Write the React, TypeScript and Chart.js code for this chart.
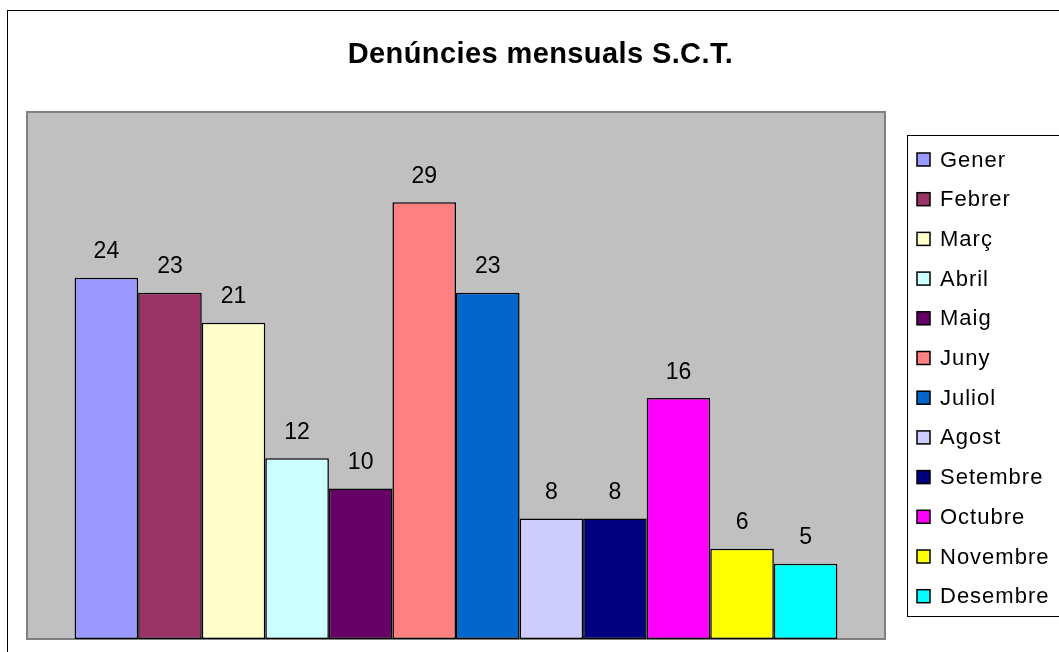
import React, { useEffect, useRef } from "react";
import { Chart, registerables } from "chart.js";

Chart.register(...registerables);

const TITLE = "Denúncies mensuals S.C.T.";
const months = ["Gener", "Febrer", "Març", "Abril", "Maig", "Juny", "Juliol", "Agost", "Setembre", "Octubre", "Novembre", "Desembre"];
const values = [24, 23, 21, 12, 10, 29, 23, 8, 8, 16, 6, 5];
const colors = ["#9999FF", "#993366", "#FFFFCC", "#CCFFFF", "#660066", "#FF8080", "#0066CC", "#CCCCFF", "#000080", "#FF00FF", "#FFFF00", "#00FFFF"];
const Y_MAX = 35;

const FONT = "'Liberation Sans', Arial, sans-serif";

const framePlugin = {
  id: "frame",
  beforeDraw(chart: any) {
    const ctx = chart.ctx;
    const { left, top, right, bottom } = chart.chartArea;
    ctx.save();
    ctx.fillStyle = "#ffffff";
    ctx.fillRect(0, 0, chart.width, chart.height);
    ctx.strokeStyle = "#000000";
    ctx.lineWidth = 1;
    ctx.strokeRect(7.5, 10.5, chart.width + 20, chart.height + 20);
    ctx.fillStyle = "#C0C0C0";
    ctx.fillRect(left, top, right - left, bottom - top);
    ctx.strokeStyle = "#808080";
    ctx.lineWidth = 2;
    ctx.strokeRect(left, top, right - left, bottom - top);
    // title
    ctx.fillStyle = "#000000";
    ctx.font = `bold 29px ${FONT}`;
    (ctx as any).letterSpacing = "0.4px";
    ctx.textAlign = "center";
    ctx.textBaseline = "alphabetic";
    ctx.fillText(TITLE, 540.5, 63);
    ctx.restore();
  },
  afterDatasetsDraw(chart: any) {
    const ctx = chart.ctx;
    ctx.save();
    ctx.fillStyle = "#000000";
    ctx.font = `23px ${FONT}`;
    ctx.textAlign = "center";
    ctx.textBaseline = "alphabetic";
    chart.data.datasets.forEach((ds: any, i: number) => {
      const meta = chart.getDatasetMeta(i);
      const el = meta.data[0];
      if (!el) return;
      ctx.fillText(String(ds.data[0]), el.x, el.y - 19.5);
    });
    // legend
    const lx = 907.5, ly = 135.5, lw = 200, lh = 481;
    ctx.strokeStyle = "#000000";
    ctx.lineWidth = 1;
    ctx.strokeRect(lx, ly, lw, lh);
    ctx.font = `22px ${FONT}`;
    (ctx as any).letterSpacing = "1px";
    ctx.textAlign = "left";
    chart.data.datasets.forEach((ds: any, i: number) => {
      const cy = 159.5 + i * 39.7;
      ctx.fillStyle = ds.backgroundColor;
      ctx.fillRect(917, cy - 6.5, 13, 13);
      ctx.strokeStyle = "#000000";
      ctx.lineWidth = 1.5;
      ctx.strokeRect(917, cy - 6.5, 13, 13);
      ctx.fillStyle = "#000000";
      ctx.fillText(ds.label, 940, cy + 7);
    });
    ctx.restore();
  },
};

export default function App() {
  const ref = useRef<HTMLCanvasElement>(null);
  useEffect(() => {
    document.body.style.margin = "0";
    const canvas = ref.current!;
    const chart = new Chart(canvas, {
      type: "bar",
      data: {
        labels: [""],
        datasets: months.map((m, i) => ({
          label: m,
          data: [values[i]],
          backgroundColor: colors[i],
          borderColor: "#000000",
          borderWidth: 1.5,
          borderSkipped: false,
          categoryPercentage: 0.889,
          barPercentage: 1.0,
        })),
      },
      options: {
        responsive: false,
        animation: false,
        devicePixelRatio: 1,
        layout: { padding: { left: 27, top: 112, right: 174, bottom: 13 } },
        plugins: {
          legend: { display: false },
          title: { display: false },
          tooltip: { enabled: false },
        },
        scales: {
          x: { display: false },
          y: { display: false, min: 0, max: Y_MAX },
        },
      },
      plugins: [framePlugin],
    });
    return () => chart.destroy();
  }, []);
  return <canvas ref={ref} width={1059} height={652} style={{ display: "block" }} />;
}
